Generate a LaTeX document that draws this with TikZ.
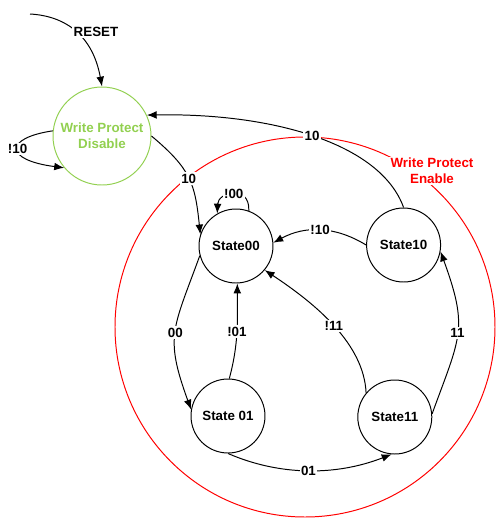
\documentclass[tikz,border=0pt]{standalone}
\usepackage{fontspec}
\setmainfont{Liberation Sans}
\usetikzlibrary{arrows.meta}
\definecolor{wpgreen}{RGB}{146,208,80}

\begin{document}
\begin{tikzpicture}[
		line width=0.7pt,
		state/.style={draw, circle, minimum size=1.85cm, inner sep=0pt, font=\bfseries\fontsize{9.5}{11.4}\selectfont},
		lbl/.style={fill=white, inner sep=1pt, font=\bfseries\fontsize{9.5}{11.4}\selectfont},
		arr/.style={-{Latex[length=7pt,width=5.5pt]}}]
		\useasboundingbox (0,0) rectangle (12.4,-12.95);
		\draw[red] (7.625,-8.175) circle (4.75);
		\node[lbl, text=red, align=center] (wpe) at (10.8,-4.275) {Write Protect\\Enable};
		\node[state, draw=wpgreen, text=wpgreen, align=center, minimum size=2.45cm] (wpd) at (2.55,-3.4) {Write Protect\\Disable};
		\node[state] (s00) at (5.9,-6.15) {State00};
		\node[state] (s10) at (10.09,-6.125) {State10};
		\node[state] (s01) at (5.7,-10.4) {State 01};
		\node[state] (s11) at (9.87,-10.425) {State11};
		\coordinate (rst) at (0.75,-0.35);
		\draw[arr] (rst) .. controls (1.65,-0.4) and (2.32,-0.9) .. node[lbl, anchor=west, xshift=-3pt]{RESET} (wpd.north);
		\draw[arr] (wpd.174) .. controls (0.1,-3.45) and (0.1,-4.0) .. node[lbl]{!10} (wpd.220);
		\draw[arr] (wpd.0) to[out=-40, in=96, looseness=1.2] node[lbl]{10} (s00.162);
		\draw[arr] (s10.north) .. controls (9.5,-3.55) and (6.72,-2.82) .. node[lbl]{10} (wpd.25);
		\draw[arr] (s00.70) .. controls (6.25,-4.6) and (5.45,-4.8) .. node[lbl]{!00} (s00.120);
		\draw[arr] (s10.west) to[bend right=30] node[lbl]{!10} (s00.5);
		\draw[arr] (s00.195) to[out=250, in=110, looseness=1.3] node[lbl]{00} (s01.170);
		\draw[arr] (s01.88) to[out=75, in=-90] node[lbl]{!01} (s00.272);
		\draw[arr] (s01.south) .. controls (7.0,-11.9) and (8.4,-11.9) .. node[lbl]{01} (s11.265);
		\draw[arr] (s11.140) .. controls (9.1,-8.6) and (7.9,-7.6) .. node[lbl]{!11} (s00.-40);
		\draw[arr] (s11.5) to[out=70, in=-70, looseness=1.3] node[lbl]{11} (s10.-10);
	\end{tikzpicture}
\end{document}
